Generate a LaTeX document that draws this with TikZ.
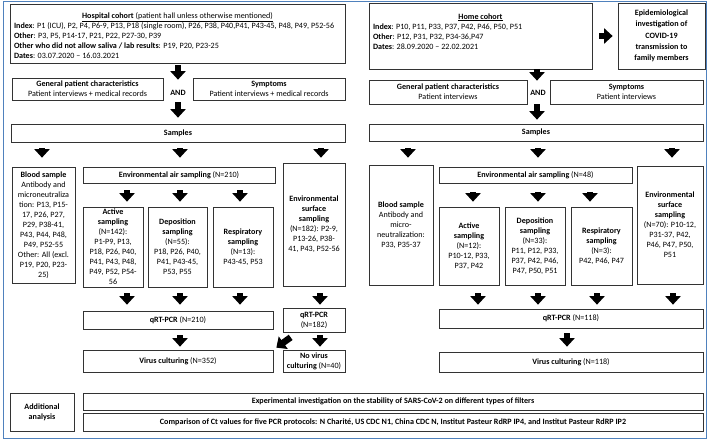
\documentclass[tikz,border=0pt]{standalone}
\usepackage{fontspec}
\setmainfont{Carlito}
\usetikzlibrary{arrows.meta,calc}
\definecolor{frameblue}{RGB}{79,129,189}
\newcommand{\fs}{\fontsize{8.1}{10}\selectfont}
\tikzset{
  box/.style={draw=black!80, line width=0.7pt, inner sep=1pt, align=center, font=\fs},
  blk/.style={line width=6.5pt, -{Triangle[width=15pt,length=8.5pt]}, black},
  outerframe/.style={draw=frameblue, line width=1pt},
  andlabel/.style={font=\fs\bfseries, inner sep=1pt}
}
\newcommand{\bx}[7]{\node[box,minimum width={#4-#2},minimum height={#5-#3},#6] (#1) at ({(#2+#4)/2},{(#3+#5)/2}) {#7};}
% arrow at x of target
\newcommand{\varr}[5]{\draw[blk] ($(#1.south -| #2.north)+(#3,#4)$) -- ($(#2.north)+(#3,-#5)$);}
% arrow at x of source
\newcommand{\varrs}[5]{\draw[blk] ($(#1.south)+(#3,#4)$) -- ($(#1.south |- #2.north)+(#3,-#5)$);}
\begin{document}
\begin{tikzpicture}[x=1pt,y=-1pt]
\useasboundingbox (0,0) rectangle (709,439);
\draw[outerframe] (3,1) rectangle (706,438);

% ---------------- Hospital cohort ----------------
\bx{hc}{10}{4}{345}{63}{inner sep=2pt}{\begin{minipage}[c][55pt][t]{331pt}\centering\rule{0pt}{12pt}\underline{\textbf{Hospital cohort} (patient hall unless otherwise mentioned)}\par
\raggedright\hspace*{2pt}\mbox{\textbf{Index}: P1 (ICU), P2, P4, P6-9, P13, P18 (single room), P26, P38, P40,P41, P43-45, P48, P49, P52-56}\par
\hspace*{2pt}\mbox{\textbf{Other}: P3, P5, P14-17, P21, P22, P27-30, P39}\par
\hspace*{2pt}\mbox{\textbf{Other who did not allow saliva / lab results}: P19, P20, P23-25}\par
\hspace*{2pt}\mbox{\textbf{Dates}: 03.07.2020 -- 16.03.2021}\end{minipage}}

\bx{gen1}{12}{78}{163}{100}{}{\textbf{General patient characteristics}\\Patient interviews + medical records}
\node[andlabel] (and1) at (178,93) {AND};
\bx{sym1}{193}{78}{345}{100}{}{\textbf{Symptoms}\\Patient interviews + medical records}
\bx{samp1}{11}{124}{345}{142}{}{\textbf{Samples}}
\bx{blood1}{12}{167}{75}{283}{}{\textbf{Blood sample}\\Antibody and\\microneutraliza\\tion: P13, P15-\\17, P26, P27,\\P29, P38-41,\\P43, P44, P48,\\P49, P52-55\\Other: All (excl.\\P19, P20, P23-\\25)}
\bx{env1}{83}{167}{275}{183}{}{\textbf{Environmental air sampling} (N=210)}
\bx{act1}{83}{207}{143}{287}{}{\textbf{Active}\\\textbf{sampling}\\(N=142):\\P1-P9, P13,\\P18, P26, P40,\\P41, P43, P48,\\P49, P52, P54-\\56}
\bx{dep1}{148}{207}{207}{287}{}{\textbf{Deposition}\\\textbf{sampling}\\(N=55):\\P18, P26, P40,\\P41, P43-45,\\P53, P55}
\bx{resp1}{213}{207}{273}{287}{}{\textbf{Respiratory}\\\textbf{sampling}\\(N=13):\\P43-45, P53}
\bx{surf1}{283}{163}{345}{286}{}{\textbf{Environmental}\\\textbf{surface}\\\textbf{sampling}\\(N=182): P2-9,\\P13-26, P38-\\41, P43, P52-56}
\bx{q210}{83}{311}{273}{329}{}{\textbf{qRT-PCR} (N=210)}
\bx{q182}{283}{308}{345}{332}{}{\textbf{qRT-PCR}\\(N=182)}
\bx{vc1}{83}{350}{273}{372}{}{\textbf{Virus culturing} (N=352)}
\bx{nvc}{283}{350}{345}{372}{}{\textbf{No virus}\\\textbf{culturing} (N=40)}

% ---------------- Home cohort ----------------
\bx{homec}{369}{3}{592}{69}{inner sep=2pt}{\begin{minipage}[c][62pt][t]{219pt}\centering\rule{0pt}{14pt}\underline{\textbf{Home cohort}}\par
\raggedright\hspace*{2pt}\mbox{\textbf{Index}: P10, P11, P33, P37, P42, P46, P50, P51}\par
\hspace*{2pt}\mbox{\textbf{Other}: P12, P31, P32, P34-36,P47}\par
\hspace*{2pt}\mbox{\textbf{Dates}: 28.09.2020 -- 22.02.2021}\end{minipage}}
\bx{epi}{618}{3}{705}{69}{font=\fontsize{8.1}{11.3}\selectfont\bfseries}{Epidemiological\\investigation of\\COVID-19\\transmission to\\family members}
\bx{gen2}{369}{80}{527}{104}{}{\textbf{General patient characteristics}\\Patient interviews}
\node[andlabel] (and2) at (538,93) {AND};
\bx{sym2}{550}{80}{703}{104}{}{\textbf{Symptoms}\\Patient interviews}
\bx{samp2}{369}{124}{703}{141}{}{\textbf{Samples}}
\bx{blood2}{369}{165}{433}{285}{}{\textbf{Blood sample}\\Antibody and\\micro-\\neutralization:\\P33, P35-37}
\bx{env2}{439}{167}{632}{183}{}{\textbf{Environmental air sampling} (N=48)}
\bx{act2}{439}{207}{499}{285}{}{\textbf{Active}\\\textbf{sampling}\\(N=12):\\P10-12, P33,\\P37, P42}
\bx{dep2}{505}{207}{565}{285}{}{\textbf{Deposition}\\\textbf{sampling}\\(N=33):\\P11, P12, P33,\\P37, P42, P46,\\P47, P50, P51}
\bx{resp2}{571}{207}{632}{285}{}{\textbf{Respiratory}\\\textbf{sampling}\\(N=3):\\P42, P46, P47}
\bx{surf2}{637}{166}{703}{284}{}{\textbf{Environmental}\\\textbf{surface}\\\textbf{sampling}\\(N=70): P10-12,\\P31-37, P42,\\P46, P47, P50,\\P51}
\bx{q118}{439}{309}{703}{328}{}{\textbf{qRT-PCR} (N=118)}
\bx{vc2}{439}{352}{703}{372}{}{\textbf{Virus culturing} (N=118)}

% ---------------- Additional analysis ----------------
\bx{add}{10}{393}{74}{431}{}{\textbf{Additional}\\\textbf{analysis}}
\bx{expi}{83}{393}{703}{410}{}{\textbf{Experimental investigation on the stability of SARS-CoV-2 on different types of filters}}
\bx{cmp}{83}{413}{703}{431}{}{\textbf{Comparison of Ct values for five PCR protocols: N Charité, US CDC N1, China CDC N, Institut Pasteur RdRP IP4, and Institut Pasteur RdRP IP2}}

% ---------------- Arrows hospital ----------------
\draw[blk] ($(hc.south)+(0.5,2)$) -- ($(hc.south |- gen1.north)+(0.5,2)$);
\draw[blk] ($(samp1.north |- gen1.south)+(0,2)$) -- ($(samp1.north)+(0,-6)$);
\varr{samp1}{blood1}{-1.5}{6}{9}
\varr{samp1}{env1}{1}{6}{9}
\varr{samp1}{surf1}{7}{6}{5}
\varr{env1}{act1}{14}{7}{5}
\varr{env1}{dep1}{2.5}{7}{5}
\varr{env1}{resp1}{-3}{7}{5}
\varrs{act1}{q210}{14}{6}{6}
\varrs{dep1}{q210}{2.5}{6}{6}
\varrs{resp1}{q210}{-3}{6}{6}
\varrs{surf1}{q182}{6}{7}{3}
\varr{q210}{vc1}{2}{6}{3}
\varr{q182}{nvc}{6}{3}{3}
\draw[blk] ($(q182.south west)+(8,5)$) -- ($(vc1.north east)+(3,-2)$);

% ---------------- Arrows home ----------------
\draw[blk] ($(homec.east)+(7,0)$) -- ($(epi.west)+(-5,0)$);
\draw[blk] ($(samp2.north |- homec.south)+(1,0)$) -- ($(samp2.north |- gen2.north)+(1,1)$);
\draw[blk] ($(samp2.north |- gen2.south)+(1,0)$) -- ($(samp2.north)+(1,-4)$);
\varr{samp2}{blood2}{7}{7}{7}
\varr{samp2}{env2}{2.5}{7}{9}
\varr{samp2}{surf2}{2}{7}{8}
\varr{env2}{act2}{4}{9}{5}
\varr{env2}{dep2}{3}{9}{5}
\varr{env2}{resp2}{-11.5}{9}{5}
\varrs{act2}{q118}{9}{8}{4}
\varrs{dep2}{q118}{3}{8}{4}
\varrs{resp2}{q118}{-4.5}{8}{4}
\varrs{surf2}{q118}{3}{9}{4}
\varr{q118}{vc2}{-4}{5}{5}
\end{tikzpicture}
\end{document}
